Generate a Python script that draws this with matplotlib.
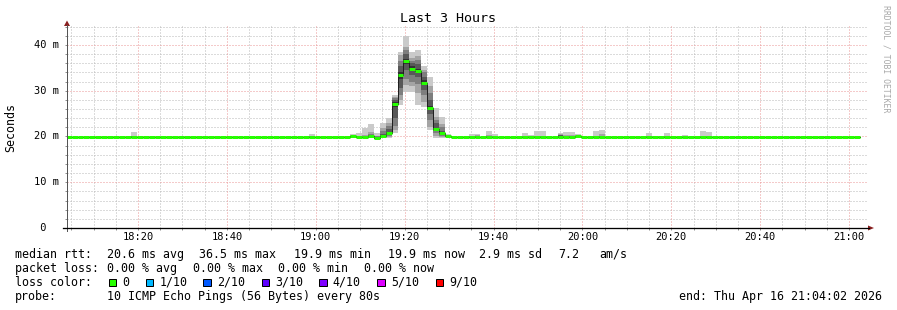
import matplotlib
matplotlib.use('Agg')
import matplotlib.pyplot as plt
import numpy as np
from matplotlib.patches import Polygon, Rectangle
from matplotlib.lines import Line2D

W, H = 897, 310

# ---------------- data ----------------
title = "Last 3 Hours"
y_label = "Seconds"
x_start = "18:04:02"          # left edge of the graph
x_end = "21:04:02"            # right edge of the graph
step_seconds = 80             # one median bar per 80 s step

# median rtt per 80 s step, in milliseconds
median_rtt = [
    19.9, 19.9, 19.9, 19.9, 19.9, 19.9, 19.9, 19.9, 19.9, 19.9,
    19.9, 19.9, 19.9, 19.9, 19.9, 19.9, 19.9, 19.9, 19.9, 19.9,
    19.9, 19.9, 19.9, 19.9, 19.9, 19.9, 19.9, 19.9, 19.9, 19.9,
    19.9, 19.9, 19.9, 19.9, 19.9, 19.9, 19.9, 19.9, 19.9, 19.9,
    19.9, 19.9, 19.9, 19.9, 19.9, 19.9, 19.9, 19.9, 20.0, 19.8,
    19.8, 20.1, 19.7, 20.1, 20.8, 27.2, 33.4, 36.4, 34.8, 34.4,
    31.8, 26.3, 21.7, 20.7, 20.0, 19.9, 19.9, 19.9, 19.9, 19.9,
    19.9, 19.9, 19.9, 19.9, 19.9, 19.9, 19.9, 19.9, 19.9, 19.9,
    19.9, 19.9, 19.9, 19.9, 19.9, 19.9, 20.1, 19.9, 19.9, 19.9,
    19.9, 19.9, 19.9, 19.9, 19.9, 19.9, 19.9, 19.9, 19.9, 19.9,
    19.9, 19.9, 19.9, 19.9, 19.9, 19.9, 19.9, 19.9, 19.9, 19.9,
    19.9, 19.9, 19.9, 19.9, 19.9, 19.9, 19.9, 19.9, 19.9, 19.9,
    19.9, 19.9, 19.9, 19.9, 19.9, 19.9, 19.9, 19.9, 19.9, 19.9,
    19.9, 19.9, 19.9, 19.9,
]

# steps with visible smoke (index into median_rtt) and their 10 sorted pings (ms)
smoke_steps = [11, 41, 48, 49, 50, 51, 52, 53, 54, 55, 56, 57, 58, 59, 60, 61, 62, 63, 64,
               68, 69, 71, 72, 77, 78, 79, 80, 81, 83, 84, 85, 86, 89, 90,
               98, 99, 100, 101, 104, 107, 108]
smoke_pings = [
    [19.8, 19.9, 19.9, 19.9, 19.9, 19.9, 20.0, 20.0, 20.2, 21.0],
    [19.8, 19.9, 19.9, 19.9, 19.9, 19.9, 19.9, 20.0, 20.1, 20.6],
    [19.8, 19.8, 19.9, 19.9, 19.9, 20.0, 20.0, 20.1, 20.3, 20.6],
    [19.6, 19.7, 19.7, 19.8, 19.8, 19.8, 19.9, 20.0, 20.2, 20.8],
    [19.6, 19.7, 19.7, 19.8, 19.8, 19.9, 19.9, 20.0, 20.3, 21.8],
    [19.7, 19.8, 19.9, 20.0, 20.1, 20.2, 20.3, 20.5, 20.9, 22.7],
    [19.5, 19.6, 19.7, 19.7, 19.7, 19.8, 19.9, 20.0, 20.2, 20.7],
    [19.6, 19.8, 19.9, 20.0, 20.1, 20.2, 20.6, 21.2, 21.8, 23.0],
    [19.6, 19.9, 20.2, 20.5, 20.7, 21.0, 21.6, 22.3, 22.9, 24.0],
    [20.7, 21.5, 22.4, 24.0, 26.5, 27.5, 28.0, 28.4, 28.7, 29.1],
    [26.9, 28.0, 29.0, 30.5, 32.5, 34.0, 35.5, 36.4, 37.8, 38.5],
    [29.8, 31.3, 32.5, 34.5, 35.8, 37.0, 38.0, 39.0, 39.6, 42.0],
    [29.8, 31.0, 32.0, 33.5, 34.3, 35.3, 36.0, 36.5, 37.2, 38.5],
    [26.9, 29.5, 31.5, 33.0, 34.0, 34.8, 35.8, 36.7, 37.5, 38.9],
    [26.5, 27.5, 29.0, 30.2, 31.2, 32.3, 33.0, 34.0, 34.5, 35.3],
    [21.4, 22.1, 23.5, 25.0, 26.0, 26.6, 28.0, 29.5, 31.0, 33.1],
    [19.6, 20.2, 20.7, 21.2, 21.5, 21.9, 22.9, 23.5, 24.3, 26.2],
    [19.7, 19.9, 20.2, 20.4, 20.6, 20.8, 21.3, 22.0, 22.8, 24.3],
    [19.8, 19.9, 19.9, 20.0, 20.0, 20.1, 20.1, 20.2, 20.3, 20.6],
    [19.8, 19.9, 19.9, 19.9, 19.9, 19.9, 19.9, 20.0, 20.1, 20.5],
    [19.8, 19.8, 19.9, 19.9, 19.9, 19.9, 20.0, 20.2, 20.3, 20.5],
    [19.8, 19.9, 19.9, 19.9, 19.9, 19.9, 20.0, 20.1, 20.4, 21.2],
    [19.8, 19.9, 19.9, 19.9, 19.9, 19.9, 19.9, 20.0, 20.1, 20.5],
    [19.8, 19.9, 19.9, 19.9, 19.9, 19.9, 19.9, 20.0, 20.2, 20.8],
    [19.8, 19.9, 19.9, 19.9, 19.9, 19.9, 19.9, 20.0, 20.1, 20.3],
    [19.8, 19.9, 19.9, 19.9, 19.9, 19.9, 19.9, 20.0, 20.2, 21.2],
    [19.8, 19.9, 19.9, 19.9, 19.9, 19.9, 19.9, 20.0, 20.2, 21.2],
    [19.8, 19.9, 19.9, 19.9, 19.9, 19.9, 19.9, 19.9, 20.0, 20.2],
    [19.8, 19.9, 19.9, 19.9, 19.9, 20.0, 20.3, 20.4, 20.6, 20.8],
    [19.8, 19.9, 19.9, 19.9, 19.9, 19.9, 20.0, 20.1, 20.3, 21.0],
    [19.8, 19.9, 19.9, 19.9, 19.9, 19.9, 20.0, 20.1, 20.3, 21.0],
    [19.9, 19.9, 20.0, 20.0, 20.1, 20.1, 20.1, 20.2, 20.3, 20.5],
    [19.8, 19.9, 19.9, 19.9, 19.9, 19.9, 19.9, 20.0, 20.2, 21.2],
    [19.8, 19.9, 19.9, 19.9, 19.9, 19.9, 20.0, 20.2, 20.5, 21.4],
    [19.8, 19.9, 19.9, 19.9, 19.9, 19.9, 19.9, 20.0, 20.2, 20.8],
    [19.8, 19.9, 19.9, 19.9, 19.9, 19.9, 19.9, 19.9, 20.0, 20.2],
    [19.8, 19.9, 19.9, 19.9, 19.9, 19.9, 19.9, 19.9, 20.0, 20.2],
    [19.8, 19.9, 19.9, 19.9, 19.9, 19.9, 19.9, 20.0, 20.2, 20.8],
    [19.8, 19.9, 19.9, 19.9, 19.9, 19.9, 19.9, 19.9, 20.0, 20.3],
    [19.8, 19.9, 19.9, 19.9, 19.9, 19.9, 19.9, 20.0, 20.2, 21.2],
    [19.8, 19.9, 19.9, 19.9, 19.9, 19.9, 19.9, 20.0, 20.2, 21.0],
]

yticks = [0, 10, 20, 30, 40]
ytick_labels = ["0", "10 m", "20 m", "30 m", "40 m"]
xtick_labels = ["18:20", "18:40", "19:00", "19:20", "19:40", "20:00", "20:20", "20:40", "21:00"]

loss_labels = ["0", "1/10", "2/10", "3/10", "4/10", "5/10", "9/10"]
loss_colors = ["#26ff00", "#00b8ff", "#0059ff", "#5e00ff", "#7e00ff", "#dd00ff", "#ff0000"]

rtt_avg, rtt_max, rtt_min, rtt_now, rtt_sd, rtt_ams = 20.6, 36.5, 19.9, 19.9, 2.9, 7.2
loss_avg, loss_max, loss_min, loss_now = 0.00, 0.00, 0.00, 0.00
probe_text = "10 ICMP Echo Pings (56 Bytes) every 80s"
end_text = "end: Thu Apr 16 21:04:02 2026"
credit = "RRDTOOL / TOBI OETIKER"

# ---------------- helpers ----------------
def to_min(s):
    p = [int(v) for v in s.split(":")]
    return p[0] * 60 + p[1] + (p[2] / 60 if len(p) > 2 else 0)

def fx(px):
    return px / W

def fy(py):
    return 1 - py / H

MONO = "DejaVu Sans Mono"
plt.rcParams['font.family'] = [MONO, 'DejaVu Sans']

fig = plt.figure(figsize=(W / 100, H / 100), dpi=100)
fig.patch.set_facecolor('white')
ax = fig.add_axes([fx(67), 1 - 228 / H, 800 / W, 203 / H])
ax.set_facecolor('white')

xmin, xmax = to_min(x_start), to_min(x_end)
ymax = 44.37
ax.set_xlim(xmin, xmax)
ax.set_ylim(0, ymax)

# grid
px = 0.72
minor_c = '#b8b8b8'
major_c = '#eb9696'
dots = (0, (1, 2))
for m in np.arange(np.ceil(xmin / 5) * 5, xmax, 5):
    if m % 20 == 0:
        continue
    ax.axvline(m, color=minor_c, lw=px, ls=dots, zorder=0)
for v in np.arange(2, ymax, 2):
    if v % 10 == 0:
        continue
    ax.axhline(v, color=minor_c, lw=px, ls=dots, zorder=0)
xt = [to_min(s) for s in xtick_labels]
for m in xt:
    ax.axvline(m, color=major_c, lw=px, ls=dots, zorder=0.5)
for v in yticks[1:]:
    ax.axhline(v, color=major_c, lw=px, ls=dots, zorder=0.5)

# step edges
n = len(median_rtt)
t0 = xmin - 0.3
edges = t0 + np.arange(n + 1) * step_seconds / 60.0
med = np.array(median_rtt)

pings = np.tile(med[:, None], (1, 10))
for k, p in zip(smoke_steps, smoke_pings):
    pings[k] = np.array(p)

smoke_colors = ['#cacaca', '#a4a4a4', '#7e7e7e', '#585858', '#323232']
for i in range(5):
    lo = pings[:, i]
    hi = pings[:, 9 - i]
    lo_e = np.append(lo, lo[-1])
    hi_e = np.append(hi, hi[-1])
    ax.fill_between(edges, lo_e, hi_e, step='post', color=smoke_colors[i],
                    lw=0, zorder=1)

# thin dark median line
ax.step(edges, np.append(med, med[-1]), where='post', color='#202020', lw=px, zorder=2)
# coloured median bars (loss 0 everywhere)
ax.hlines(med, edges[:-1], edges[1:], colors=loss_colors[0], lw=3 * px,
          zorder=3, capstyle='butt')

# ticks
ax.set_xticks(xt)
ax.set_xticklabels(xtick_labels, fontsize=7.5, family=MONO)
ax.set_xticks(np.arange(np.ceil(xmin / 5) * 5, xmax, 5), minor=True)
ax.set_yticks(yticks)
ax.set_yticklabels([])
ax.set_yticks(np.arange(2, ymax, 2), minor=True)
ax.tick_params(axis='both', which='both', length=2.5 * px, width=px, color='#909090')
ax.tick_params(axis='x', which='major', pad=1.2)

for sp in ax.spines.values():
    sp.set_visible(False)

for v, lab in zip(yticks, ytick_labels):
    if ' ' not in lab:
        lab = ' ' + lab
    ax.text(-(67 - 34.5) / 800, v, lab, transform=ax.get_yaxis_transform(),
            ha='left', va='center', fontsize=7.5, family=MONO)

# axes lines and arrows
arrow_c = '#8b2020'
fig.add_artist(Line2D([fx(67), fx(67)], [fy(231), fy(25)], color='#555555', lw=px))
fig.add_artist(Line2D([fx(63), fx(869)], [fy(228), fy(228)], color='black', lw=1.3 * px))
fig.add_artist(Polygon([[fx(64), fy(26)], [fx(70), fy(26)], [fx(67), fy(20.5)]],
                       closed=True, color=arrow_c, lw=0))
fig.add_artist(Polygon([[fx(868), fy(225.5)], [fx(868), fy(230.5)], [fx(874), fy(228)]],
                       closed=True, color=arrow_c, lw=0))

# titles
fig.text(fx(447.5), fy(19), title, ha='center', va='center', fontsize=9.6, family=MONO)
fig.text(fx(10.5), fy(127.5), y_label, ha='center', va='center', rotation=90,
         fontsize=8.4, family=MONO)
fig.text(fx(886), fy(5), credit, ha='center', va='top', rotation=270,
         fontsize=5.9, family=MONO, color='#a8a8a8')

# legend
fs = 8.4
def put(x, y, s, **kw):
    fig.text(fx(x - 0.7), fy(y), s, ha=kw.pop('ha', 'left'), va='center', fontsize=fs,
             family=MONO, **kw)

y1, y2, y3, y4 = 254.3, 268.3, 282.3, 296.5
put(16, y1, "median rtt:")
put(107.3, y1, f"{rtt_avg:.1f} ms avg")
put(200, y1, f"{rtt_max:.1f} ms max")
put(295, y1, f"{rtt_min:.1f} ms min")
put(388.3, y1, f"{rtt_now:.1f} ms now")
put(479.3, y1, f"{rtt_sd:.1f} ms sd")
put(559.3, y1, f"{rtt_ams:.1f}")
put(600, y1, "am/s")

put(16, y2, "packet loss:")
put(107.3, y2, f"{loss_avg:.2f} % avg")
put(193.3, y2, f"{loss_max:.2f} % max")
put(278.3, y2, f"{loss_min:.2f} % min")
put(365, y2, f"{loss_now:.2f} % now")

put(16, y3, "loss color:")
sq_x = [108.7, 145.7, 203.3, 261.7, 319.3, 377.3, 435.7]
for x, lab, c in zip(sq_x, loss_labels, loss_colors):
    fig.add_artist(Rectangle((fx(x), fy(y3 + 3.8)), 7.5 / W, 7.5 / H,
                             facecolor=c, edgecolor='black', lw=px))
    put(x + 14.3, y3, lab)

put(16, y4, "probe:")
put(107.3, y4, probe_text)
fig.text(fx(881.5), fy(y4), end_text, ha='right', va='center', fontsize=fs, family=MONO)

fig.savefig('out.png', dpi=100, facecolor='white')
